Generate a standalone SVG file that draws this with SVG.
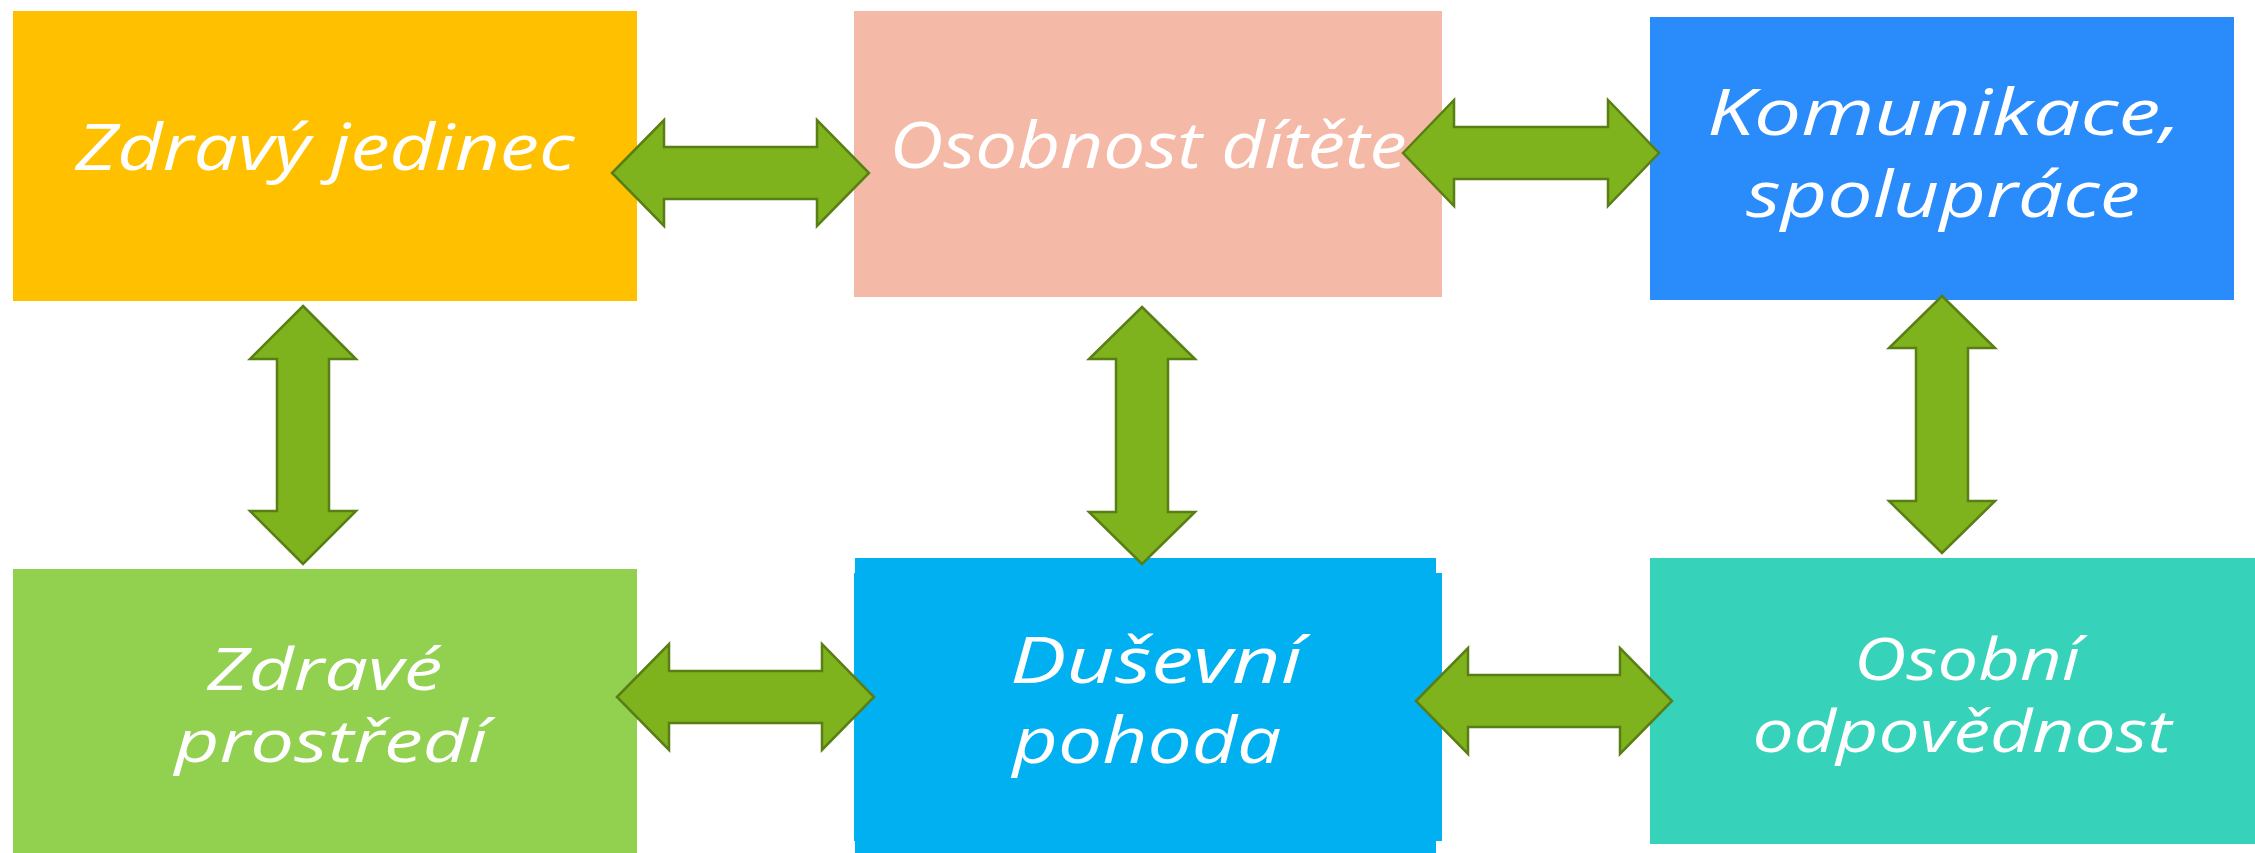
<svg xmlns="http://www.w3.org/2000/svg" width="2255" height="853" viewBox="0 0 2255 853">
<style>
.lbl{font-family:"Open Sans","Noto Sans","DejaVu Sans",sans-serif;font-style:italic;font-size:64px;fill:#ffffff;text-anchor:middle}
.sm{font-size:58px}
.arr{fill:#7FB31E;stroke:#587E14;stroke-width:2.5;stroke-linejoin:miter}
</style>
<rect width="2255" height="853" fill="#ffffff"/>
<g id="node-zdravy-jedinec">
<rect x="13" y="11" width="624" height="290" fill="#FFC000"/>
<text class="lbl" x="325" y="170" textLength="499" lengthAdjust="spacingAndGlyphs">Zdravý jedinec</text>
</g>
<g id="node-osobnost-ditete">
<rect x="854" y="11" width="588" height="286" fill="#F5B9A7"/>
<text class="lbl" x="1148" y="168" textLength="517" lengthAdjust="spacingAndGlyphs">Osobnost dítěte</text>
</g>
<g id="node-komunikace">
<rect x="1650" y="17" width="584" height="283" fill="#2A8CFB"/>
<text class="lbl" x="1944" y="135" textLength="474" lengthAdjust="spacingAndGlyphs">Komunikace,</text>
<text class="lbl" x="1943" y="217" textLength="394" lengthAdjust="spacingAndGlyphs">spolupráce</text>
</g>
<g id="node-zdrave-prostredi">
<rect x="13" y="569" width="624" height="284" fill="#92D050"/>
<text class="lbl sm" x="325" y="690" textLength="235" lengthAdjust="spacingAndGlyphs">Zdravé</text>
<text class="lbl sm" x="331" y="762" textLength="313" lengthAdjust="spacingAndGlyphs">prostředí</text>
</g>
<g id="node-dusevni-pohoda">
<rect x="855" y="558" width="581" height="295" fill="#00B0F0"/>
<rect x="854" y="573" width="588" height="268" fill="#00B0F0"/>
<text class="lbl" x="1156" y="683" textLength="292" lengthAdjust="spacingAndGlyphs">Duševní</text>
<text class="lbl" x="1147" y="763" textLength="269" lengthAdjust="spacingAndGlyphs">pohoda</text>
</g>
<g id="node-osobni-odpovednost">
<rect x="1650" y="558" width="605" height="286" fill="#37D2BA"/>
<text class="lbl sm" x="1967" y="680" textLength="226" lengthAdjust="spacingAndGlyphs">Osobní</text>
<text class="lbl sm" x="1962" y="752" textLength="419" lengthAdjust="spacingAndGlyphs">odpovědnost</text>
</g>
<g id="connectors">
<polygon class="arr" points="612,173 664,120 664,147 817,147 817,120 869,173 817,226 817,199 664,199 664,226"/>
<polygon class="arr" points="1403,153 1454,100 1454,127 1608,127 1608,100 1659,153 1608,206 1608,179 1454,179 1454,206"/>
<polygon class="arr" points="617,697 669,644 669,671 822,671 822,644 874,697 822,750 822,723 669,723 669,750"/>
<polygon class="arr" points="1416,701 1468,648 1468,675 1620,675 1620,648 1672,701 1620,754 1620,727 1468,727 1468,754"/>
<polygon class="arr" points="303,306 356,359 329,359 329,511 356,511 303,564 250,511 277,511 277,359 250,359"/>
<polygon class="arr" points="1142,307 1195,359 1168,359 1168,512 1195,512 1142,564 1089,512 1116,512 1116,359 1089,359"/>
<polygon class="arr" points="1942,296 1995,348 1968,348 1968,501 1995,501 1942,553 1889,501 1916,501 1916,348 1889,348"/>
</g>
</svg>
